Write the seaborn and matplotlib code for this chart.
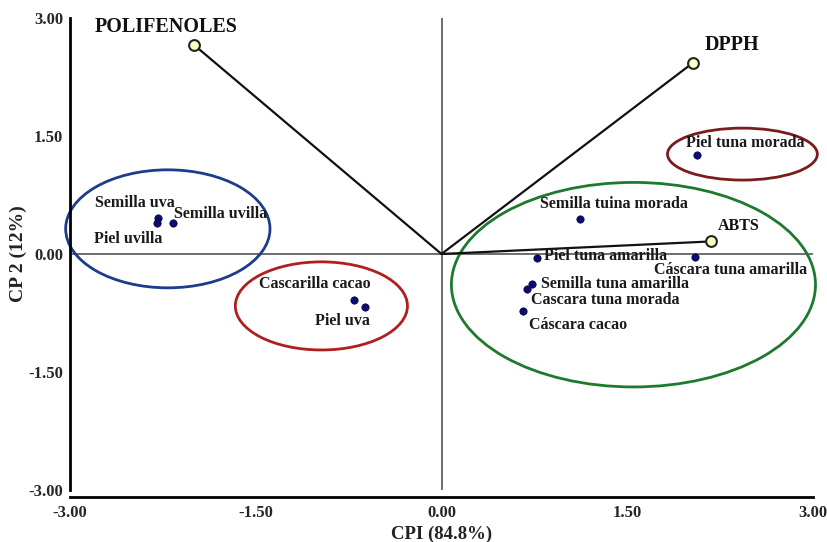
import matplotlib
matplotlib.use('Agg')
import matplotlib.pyplot as plt
from matplotlib.patches import Ellipse
import pandas as pd
import seaborn as sns

# muestras (scores)
muestras = ['Semilla uva', 'Piel uvilla', 'Semilla uvilla', 'Cascarilla cacao', 'Piel uva',
            'Piel tuna morada', 'Semilla tuina morada', 'Piel tuna amarilla',
            'Cáscara tuna amarilla', 'Semilla tuna amarilla', 'Cascara tuna morada', 'Cáscara cacao']
cp1 = [-2.29, -2.30, -2.17, -0.71, -0.62, 2.06, 1.12, 0.77, 2.05, 0.73, 0.69, 0.66]
cp2 = [0.46, 0.39, 0.39, -0.58, -0.67, 1.26, 0.45, -0.05, -0.04, -0.38, -0.45, -0.72]

# variables (loadings)
variables = ['POLIFENOLES', 'DPPH', 'ABTS']
var_cp1 = [-2.00, 2.03, 2.18]
var_cp2 = [2.66, 2.43, 0.16]

# grupos (elipses)
grupo_cx = [-2.21, -0.97, 2.43, 1.55]
grupo_cy = [0.32, -0.66, 1.27, -0.39]
grupo_ancho = [1.65, 1.39, 1.21, 2.94]
grupo_alto = [1.50, 1.12, 0.66, 2.60]
grupo_color = ['#1c3c8c', '#b01e1e', '#7a1c1c', '#1d7a2c']

ticks = [-3.00, -1.50, 0.00, 1.50, 3.00]

# posicion de etiquetas (pixeles respecto al punto)
off_muestras = {
    'Semilla uva': (-63, 15), 'Piel uvilla': (-63, -16), 'Semilla uvilla': (1, 9),
    'Cascarilla cacao': (-95, 16), 'Piel uva': (-50, -14), 'Piel tuna morada': (-11, 12),
    'Semilla tuina morada': (-40, 15), 'Piel tuna amarilla': (7, 2),
    'Cáscara tuna amarilla': (-41, -13), 'Semilla tuna amarilla': (9, 0),
    'Cascara tuna morada': (4, -11), 'Cáscara cacao': (6, -14)}
off_vars = {'POLIFENOLES': (-99, 18), 'DPPH': (12, 18), 'ABTS': (6, 15)}
size_vars = {'POLIFENOLES': 14.5, 'DPPH': 14.5, 'ABTS': 11.5}

sns.set_style('white')
plt.rcParams['font.family'] = ['Liberation Serif', 'DejaVu Serif']
plt.rcParams['font.weight'] = 'bold'

df = pd.DataFrame({'muestra': muestras, 'CP1': cp1, 'CP2': cp2})
dv = pd.DataFrame({'variable': variables, 'CP1': var_cp1, 'CP2': var_cp2})

fig = plt.figure(figsize=(8.27, 5.42), dpi=100)
ax = fig.add_axes([70 / 827, 1 - 490 / 542, 743 / 827, 472 / 542])

ax.axhline(0, color='#555555', lw=1.2, zorder=1)
ax.axvline(0, color='#555555', lw=1.2, zorder=1)

for cx, cy, w, h, c in zip(grupo_cx, grupo_cy, grupo_ancho, grupo_alto, grupo_color):
    ax.add_patch(Ellipse((cx, cy), w, h, fill=False, edgecolor=c, lw=2, clip_on=False, zorder=2))

for x, y in zip(var_cp1, var_cp2):
    ax.plot([0, x], [0, y], color='#111111', lw=1.6, zorder=3)

sns.scatterplot(data=dv, x='CP1', y='CP2', ax=ax, s=60, color='#ffffc0',
                edgecolor='#222222', linewidth=1.5, zorder=4, legend=False)
sns.scatterplot(data=df, x='CP1', y='CP2', ax=ax, s=28, color='#0b0b70',
                edgecolor='#000040', linewidth=0.5, zorder=4, legend=False)

for _, r in df.iterrows():
    ax.annotate(r['muestra'], (r['CP1'], r['CP2']), xytext=off_muestras[r['muestra']],
                textcoords='offset pixels', ha='left', va='center', fontsize=11.5,
                fontweight='bold', color='#1a1a1a', zorder=5)
for _, r in dv.iterrows():
    ax.annotate(r['variable'], (r['CP1'], r['CP2']), xytext=off_vars[r['variable']],
                textcoords='offset pixels', ha='left', va='center',
                fontsize=size_vars[r['variable']], fontweight='bold', color='#111111', zorder=5)

ax.set_xlim(-3, 3)
ax.set_ylim(-3, 3)
ax.set_xticks(ticks)
ax.set_yticks(ticks)
ax.set_xticklabels(['%.2f' % t for t in ticks])
ax.set_yticklabels(['%.2f' % t for t in ticks])
ax.tick_params(axis='x', direction='inout', length=6, width=1.5, pad=3, labelsize=12)
ax.tick_params(axis='y', direction='out', length=4, width=1.5, pad=1, labelsize=12)
ax.set_xlabel('CPI (84.8%)', fontsize=13.5, fontweight='bold', color='#222222', labelpad=3)
ax.set_ylabel('CP 2 (12%)', fontsize=14, fontweight='bold', color='#222222', labelpad=1)

sns.despine(ax=ax)
ax.spines['bottom'].set_position(('outward', 5))
ax.spines['left'].set_linewidth(2)
ax.spines['bottom'].set_linewidth(2)
ax.spines['left'].set_color('black')
ax.spines['bottom'].set_color('black')

fig.savefig('out.png', dpi=100)
